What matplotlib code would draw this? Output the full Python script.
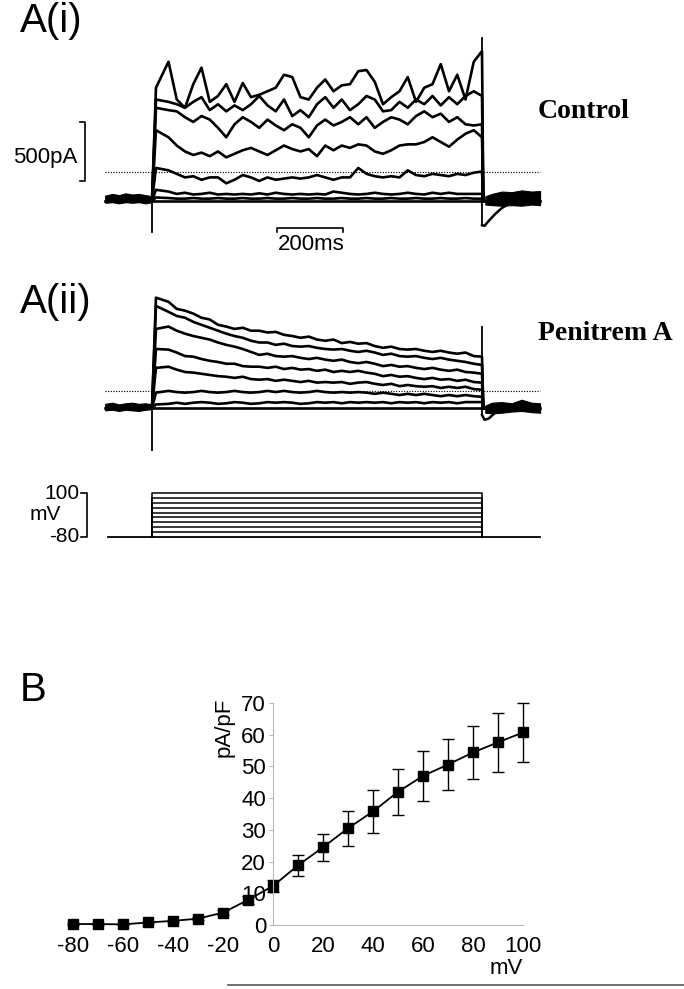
import matplotlib
matplotlib.use("Agg")
import matplotlib.pyplot as plt
from matplotlib.lines import Line2D

plt.rcParams["font.family"] = ["Liberation Sans", "DejaVu Sans"]
plt.rcParams["axes.unicode_minus"] = False

W, H = 684, 989

# ── data: whole-cell currents (pA, relative to holding level) ───────────────
SWEEP_T = [0, 12, 50, 75, 100, 125, 150, 175, 200, 225, 250, 275, 300, 325, 350,
           375, 400, 425, 450, 475, 500, 525, 550, 575, 600, 625, 650, 675, 700,
           725, 750, 775, 800, 825, 850, 875, 900, 925, 950, 975, 1000]
PULSE_END = 1000
SWEEP_START, SWEEP_STOP = -142, 1176

CTRL_1 = [0, 960, 1180, 860, 790, 990, 1130, 840, 890, 990, 840, 1000, 880, 900, 930,
          960, 1070, 1050, 880, 860, 960, 1030, 930, 980, 990, 1100, 1110, 1010, 820,
          880, 930, 1050, 840, 960, 990, 1160, 930, 1070, 860, 1180, 1270]
CTRL_2 = [0, 860, 840, 820, 790, 840, 880, 770, 820, 760, 810, 770, 820, 890, 810,
          760, 860, 720, 770, 710, 820, 880, 790, 860, 770, 820, 890, 860, 760,
          770, 840, 790, 860, 820, 890, 810, 880, 820, 890, 930, 890]
CTRL_3 = [0, 790, 770, 760, 710, 670, 720, 690, 620, 540, 650, 710, 670, 620, 690,
          640, 600, 650, 620, 540, 640, 690, 640, 670, 710, 650, 710, 620, 670,
          710, 690, 650, 720, 760, 710, 740, 670, 710, 650, 640, 650]
CTRL_4 = [0, 600, 540, 470, 420, 390, 410, 380, 420, 370, 400, 430, 450, 420, 390,
          430, 470, 440, 420, 440, 380, 470, 430, 470, 450, 480, 470, 420, 400,
          430, 470, 480, 480, 500, 540, 500, 460, 520, 570, 600, 540]
CTRL_5 = [0, 280, 260, 230, 200, 210, 180, 200, 200, 150, 180, 220, 200, 170, 200,
          180, 190, 200, 190, 200, 220, 200, 180, 200, 200, 280, 230, 210, 200,
          210, 200, 260, 220, 210, 230, 220, 210, 230, 220, 240, 250]
CTRL_6 = [0, 95, 80, 60, 70, 55, 60, 70, 55, 60, 55, 60, 55, 65, 55, 70, 60, 55, 60,
          55, 60, 55, 80, 70, 60, 55, 60, 70, 60, 55, 60, 70, 60, 55, 70, 60, 70,
          60, 60, 60, 60]
CTRL_7 = [0, 30, 25, 20, 20, 25, 20, 20, 25, 20, 20, 25, 20, 20, 25, 20, 20, 25, 20,
          20, 25, 20, 20, 25, 20, 20, 25, 20, 20, 25, 20, 20, 25, 20, 20, 25, 20,
          20, 25, 20, 20]
CTRL_SWEEPS = [CTRL_1, CTRL_2, CTRL_3, CTRL_4, CTRL_5, CTRL_6, CTRL_7]

PEN_1 = [0, 935, 900, 840, 825, 800, 765, 750, 705, 690, 670, 680, 655, 655, 640,
         645, 620, 610, 595, 605, 580, 570, 580, 550, 560, 545, 550, 525, 510,
         520, 500, 495, 500, 485, 475, 485, 470, 460, 470, 440, 435]
PEN_2 = [0, 865, 815, 780, 765, 730, 705, 680, 655, 630, 610, 595, 570, 555, 555,
         535, 545, 525, 520, 525, 510, 500, 495, 500, 485, 475, 485, 470, 450,
         460, 440, 435, 440, 425, 415, 425, 410, 400, 390, 375, 365]
PEN_3 = [0, 670, 690, 655, 630, 610, 595, 580, 555, 535, 520, 500, 475, 450, 460,
         440, 435, 440, 425, 415, 425, 410, 400, 410, 390, 380, 390, 375, 355,
         365, 350, 355, 340, 330, 340, 325, 315, 325, 305, 300, 290]
PEN_4 = [0, 500, 495, 470, 440, 435, 415, 400, 390, 375, 375, 355, 350, 350, 340,
         350, 330, 340, 325, 330, 315, 325, 305, 315, 305, 315, 300, 290, 270,
         280, 265, 270, 255, 245, 255, 240, 245, 230, 240, 220, 215]
PEN_5 = [0, 340, 350, 325, 305, 300, 290, 280, 270, 265, 255, 265, 245, 240, 245,
         230, 240, 230, 220, 230, 215, 220, 215, 220, 205, 215, 220, 205, 195,
         205, 185, 195, 185, 180, 185, 170, 180, 170, 180, 160, 155]
PEN_6 = [0, 130, 145, 135, 130, 135, 145, 135, 130, 135, 145, 135, 130, 135, 145,
         135, 145, 135, 130, 135, 145, 135, 130, 135, 130, 135, 130, 120, 130,
         120, 110, 120, 110, 120, 110, 100, 110, 100, 110, 100, 95]
PEN_7 = [0, 30, 35, 45, 35, 45, 50, 45, 35, 40, 50, 45, 35, 40, 50, 45, 50, 45, 35,
         40, 50, 45, 50, 40, 50, 45, 50, 45, 50, 40, 50, 45, 50, 40, 50, 45, 50,
         40, 50, 50, 50]
PEN_SWEEPS = [PEN_1, PEN_2, PEN_3, PEN_4, PEN_5, PEN_6, PEN_7]

# pre-pulse noise band, capacitive transients, tail currents
PRE_T = [-142, -120, -100, -80, -60, -40, -20, 0]
CTRL_PRE_HI = [45, 60, 50, 65, 55, 60, 50, 40]
CTRL_PRE_LO = [-15, -10, -20, -10, -15, -10, -20, -10]
PEN_PRE_HI = [35, 45, 30, 40, 45, 35, 40, 30]
PEN_PRE_LO = [-20, -15, -25, -15, -20, -25, -15, -10]

POST_T = [1010, 1030, 1060, 1090, 1120, 1150, 1176]
CTRL_POST_HI = [40, 60, 80, 75, 90, 80, 85]
CTRL_POST_LO = [-30, -35, -40, -35, -40, -30, -35]
PEN_POST_HI = [20, 45, 50, 40, 70, 45, 40]
PEN_POST_LO = [-40, -45, -40, -30, -25, -35, -40]

TAIL_T = [1000, 1008, 1020, 1040, 1060, 1085]
CTRL_TAIL = [-205, -210, -170, -110, -60, -20]
PEN_TAIL = [-60, -100, -90, -40, -15, 0]

CTRL_ON_SPIKE, CTRL_OFF_SPIKE = -265, 1385
PEN_ON_SPIKE, PEN_OFF_SPIKE = -355, 690
CTRL_ZERO, PEN_ZERO = 245, 145          # dotted reference lines

# voltage protocol (mV)
HOLD_MV = -80
STEP_MV = [-60, -40, -20, 0, 20, 40, 60, 80, 100]
PROTO_START = -133

# ── data: I-V relation (panel B) ─────────────────────────────────────────────
IV_MV = [-80, -70, -60, -50, -40, -30, -20, -10, 0, 10, 20, 30, 40, 50, 60, 70, 80, 90, 100]
IV_PAPF = [0.3, 0.3, 0.2, 0.8, 1.3, 2.0, 3.9, 7.9, 12.3, 18.8, 24.5, 30.5, 35.8,
           42.0, 47.0, 50.6, 54.4, 57.6, 60.7]
IV_SEM = [0.2, 0.2, 0.2, 0.3, 0.4, 0.5, 0.8, 1.2, 2.0, 3.4, 4.2, 5.6, 6.8, 7.2,
          8.0, 8.0, 8.4, 9.2, 9.3]
XTICKS = [-80, -60, -40, -20, 0, 20, 40, 60, 80, 100]
YTICKS = [0, 10, 20, 30, 40, 50, 60, 70]

# ── layout (pixel mapping of the reference) ──────────────────────────────────
T0_PX = 152
PX_PER_MS = 0.33
PX_PER_PA = 59 / 500
PX_PER_MV = 44 / 180

fig = plt.figure(figsize=(W / 100, H / 100), dpi=100)


def px_axes(left, top, right, bottom):
    ax = fig.add_axes([left / W, 1 - bottom / H, (right - left) / W, (bottom - top) / H])
    ax.set_xlim((left - T0_PX) / PX_PER_MS, (right - T0_PX) / PX_PER_MS)
    return ax


def ftext(x, y, s, **kw):
    fig.text(x / W, 1 - y / H, s, **kw)


def trace_panel(top, bottom, base, sweeps, pre_hi, pre_lo, post_hi, post_lo,
                tail, on_spike, off_spike, zero):
    ax = px_axes(60, top, 560, bottom)
    ax.set_ylim((base - bottom) / PX_PER_PA, (base - top) / PX_PER_PA)
    ax.axis("off")
    kw = dict(color="black", lw=1.9, solid_joinstyle="round")
    ax.plot([SWEEP_START, SWEEP_STOP], [0, 0], **kw)
    ax.fill_between(PRE_T, pre_lo, pre_hi, color="black", lw=0.8)
    ax.fill_between(POST_T, post_lo, post_hi, color="black", lw=0.8)
    for sw in sweeps:
        ax.plot(SWEEP_T + [PULSE_END + 4], sw + [0], **kw)
    ax.plot([0, 0], [on_spike, 0], color="black", lw=1.3)
    ax.plot([PULSE_END, PULSE_END], [tail[0], off_spike], color="black", lw=1.3)
    ax.plot(TAIL_T, tail, color="black", lw=1.8)
    ax.plot([SWEEP_START, SWEEP_STOP], [zero, zero], color="black", lw=0.8,
            ls=(0, (1, 1.4)))
    return ax


# A(i) control
ax1 = trace_panel(30, 240, 201, CTRL_SWEEPS, CTRL_PRE_HI, CTRL_PRE_LO,
                  CTRL_POST_HI, CTRL_POST_LO, CTRL_TAIL, CTRL_ON_SPIKE,
                  CTRL_OFF_SPIKE, CTRL_ZERO)
# scale bars
bar_t = (85 - T0_PX) / PX_PER_MS
tick_t = (80 - T0_PX) / PX_PER_MS
ax1.plot([tick_t, bar_t, bar_t, tick_t], [670, 670, 170, 170], color="black", lw=1.2)
ax1.plot([380, 380, 580, 580], [-265, -230, -230, -265], color="black", lw=1.2)

# A(ii) penitrem A
trace_panel(285, 460, 408, PEN_SWEEPS, PEN_PRE_HI, PEN_PRE_LO, PEN_POST_HI,
            PEN_POST_LO, PEN_TAIL, PEN_ON_SPIKE, PEN_OFF_SPIKE, PEN_ZERO)

# voltage protocol
axv = px_axes(60, 480, 560, 545)
axv.set_ylim(HOLD_MV - (545 - 537) / PX_PER_MV, HOLD_MV + (537 - 480) / PX_PER_MV)
axv.axis("off")
axv.plot([PROTO_START, SWEEP_STOP], [HOLD_MV, HOLD_MV], color="black", lw=1.3)
for v in STEP_MV:
    axv.plot([0, 0, PULSE_END, PULSE_END], [HOLD_MV, v, v, HOLD_MV], color="black", lw=1.1)
bar_t = (87 - T0_PX) / PX_PER_MS
tick_t = (81 - T0_PX) / PX_PER_MS
axv.plot([tick_t, bar_t, bar_t, tick_t], [max(STEP_MV)] * 2 + [HOLD_MV] * 2,
         color="black", lw=1.2)

# panel texts
ftext(20, 21, "A(i)", fontsize=29, va="center")
ftext(20, 302, "A(ii)", fontsize=29, va="center")
ftext(20, 690, "B", fontsize=29, va="center")
ftext(538, 112, "Control", fontsize=20, fontweight="bold", va="center",
      family="Liberation Serif")
ftext(538, 333, "Penitrem A", fontsize=20, fontweight="bold", va="center",
      family="Liberation Serif")
ftext(77, 157, "500pA", fontsize=16, ha="right", va="center")
ftext(311, 245, "200ms", fontsize=16, ha="center", va="center")
ftext(79, 493, "100", fontsize=15, ha="right", va="center")
ftext(61, 515, "mV", fontsize=15, ha="right", va="center")
ftext(79, 537, "-80", fontsize=15, ha="right", va="center")

# ── B: I-V curve ─────────────────────────────────────────────────────────────
X0_PX, PX_PER_UNIT = 273, 2.5
axb = fig.add_axes([(X0_PX - 85 * PX_PER_UNIT) / W, 1 - 925 / H,
                    190 * PX_PER_UNIT / W, (925 - 703) / H])
axb.set_xlim(-85, 105)
axb.set_ylim(0, 70)
axb.errorbar(IV_MV, IV_PAPF, yerr=IV_SEM, fmt="none", ecolor="black",
             elinewidth=1.0, capsize=4, capthick=1.0, clip_on=False)
axb.plot(IV_MV, IV_PAPF, color="black", lw=1.3, marker="s", ms=6.5, clip_on=False)

grey = "#b8b8b8"
for side in ("top", "right"):
    axb.spines[side].set_visible(False)
axb.spines["left"].set_position(("data", 0))
axb.spines["left"].set_color(grey)
axb.spines["bottom"].set_color(grey)
axb.spines["bottom"].set_bounds(0, 100)
axb.set_yticks(YTICKS)
axb.set_xticks(XTICKS)
axb.set_xticks(XTICKS[4:], minor=True)
axb.tick_params(axis="y", direction="out", length=3, color=grey, labelsize=16, pad=2)
axb.tick_params(axis="x", which="major", length=0, labelsize=16, pad=8)
axb.tick_params(axis="x", which="minor", direction="out", length=3, color=grey)
ftext(224, 727, "pA/pF", fontsize=16, rotation=90, ha="center", va="center")
ftext(506, 969, "mV", fontsize=16, ha="center", va="center")

fig.add_artist(Line2D([228 / W, 1], [1 - 985 / H] * 2, color="#555555", lw=1.2))

fig.savefig("out.png", dpi=100)
